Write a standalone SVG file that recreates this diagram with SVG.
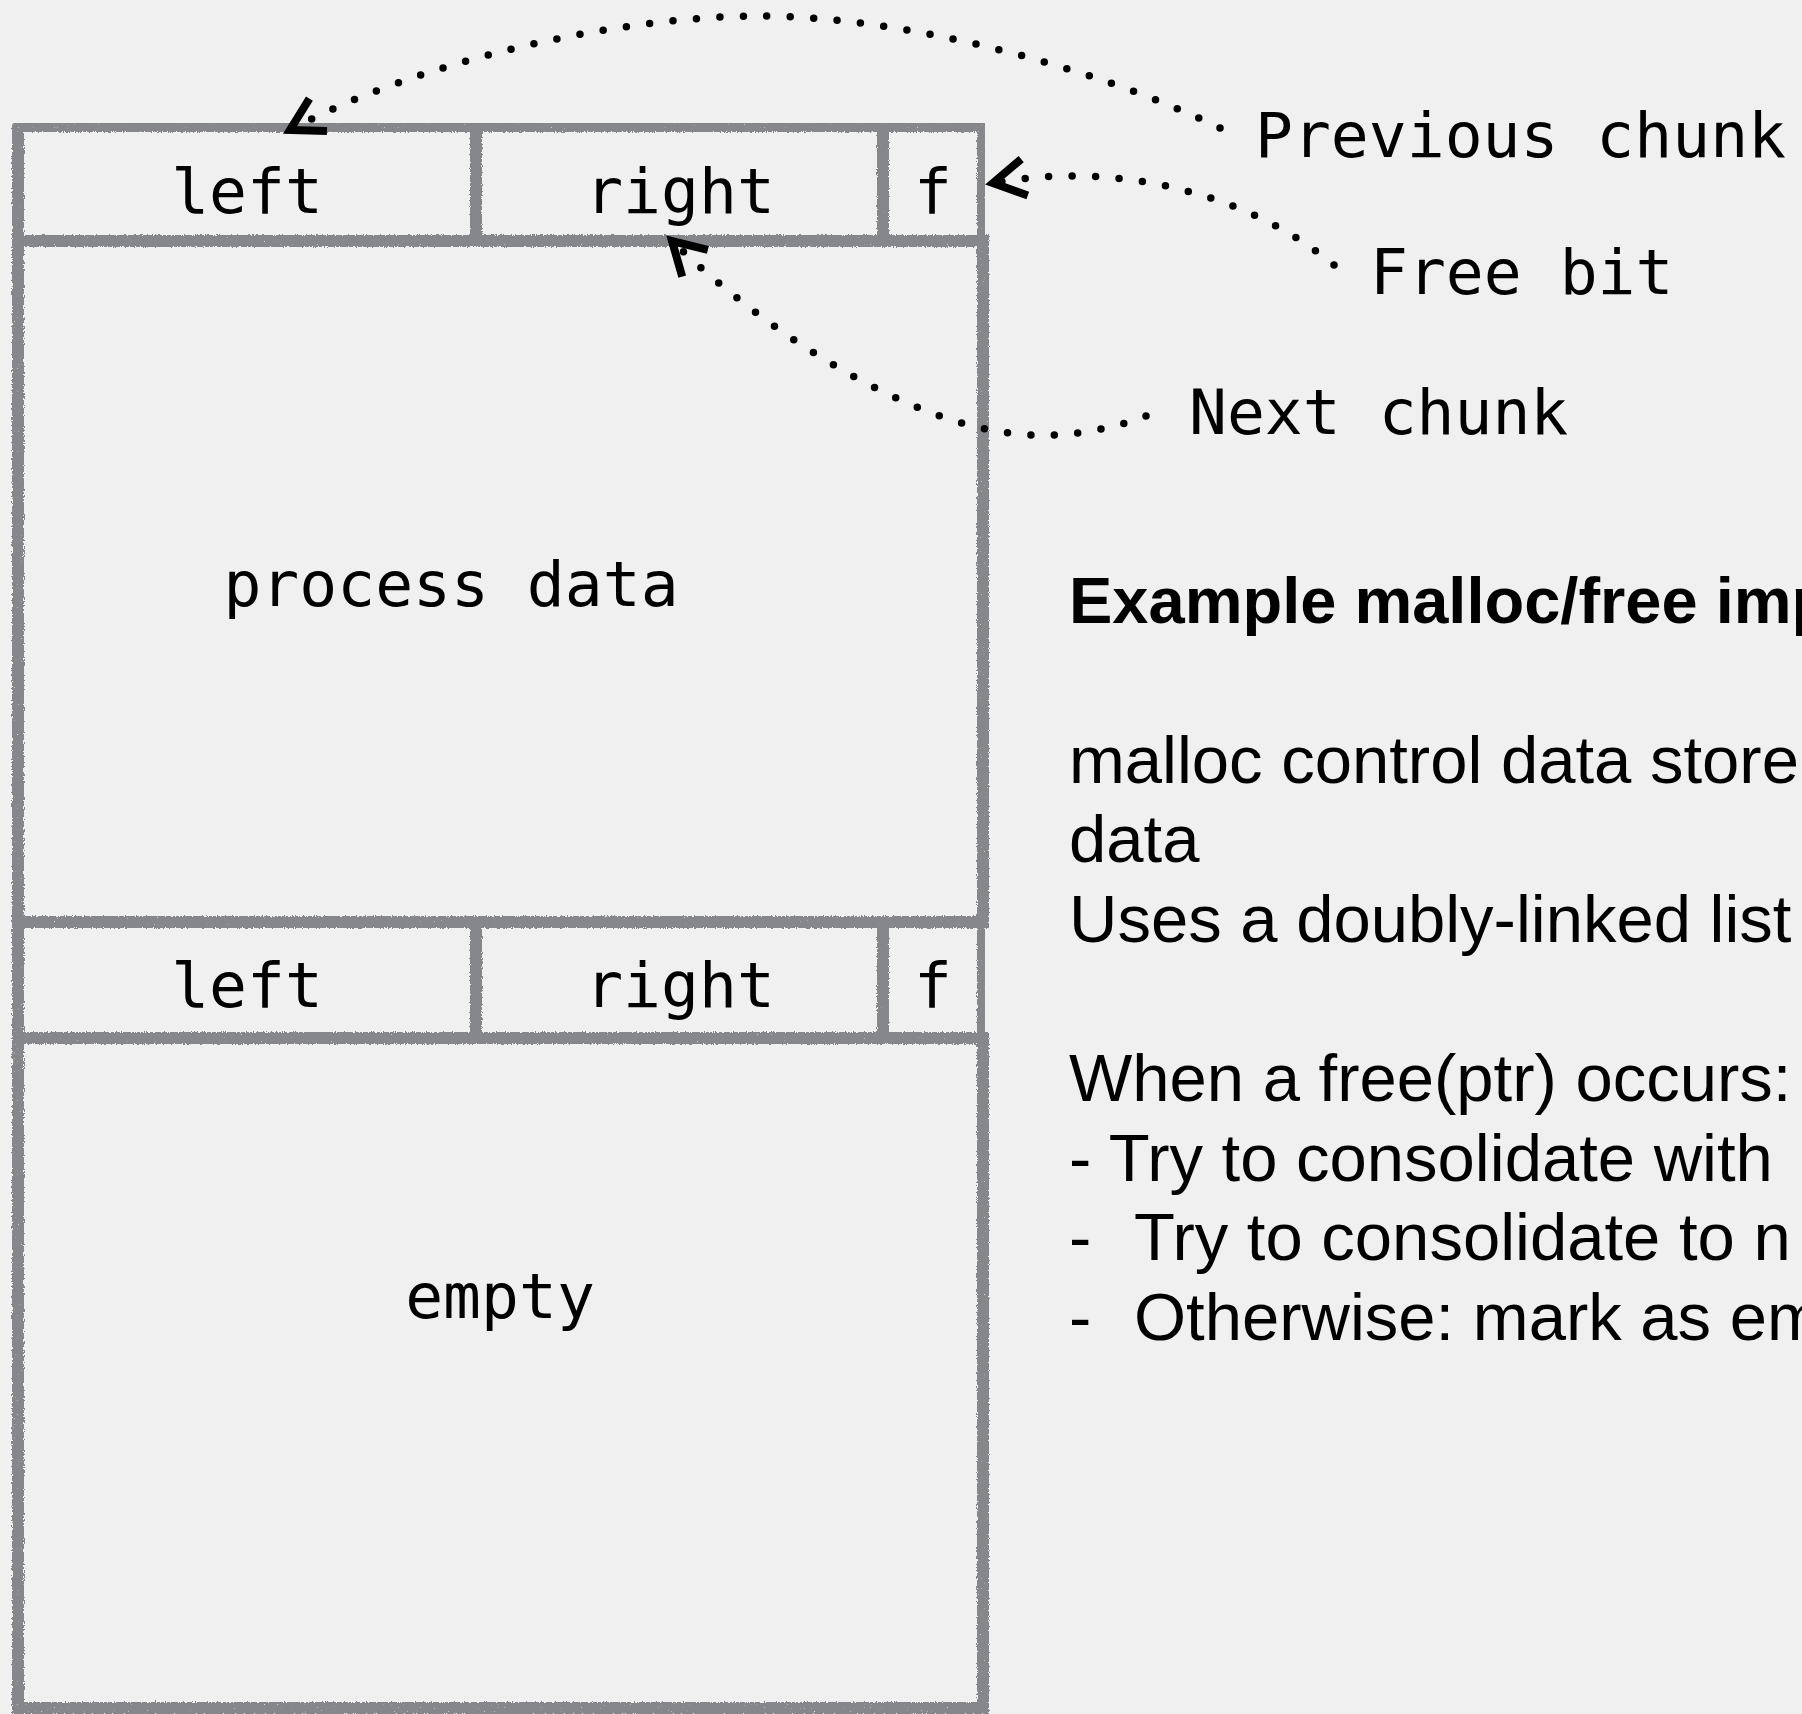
<svg xmlns="http://www.w3.org/2000/svg" width="1802" height="1714" viewBox="0 0 1802 1714">
<style>
.cell{fill:#f0f0f0;stroke:#85878b;stroke-width:12;filter:url(#chalk)}
.mono{font-family:"DejaVu Sans Mono","Liberation Mono",monospace;font-size:63px;fill:#000}
.mid{text-anchor:middle}
.sans{font-family:"Liberation Sans",Arial,Helvetica,sans-serif;font-size:67px;fill:#000}
.bold{font-weight:bold;font-size:65px}
.dot{fill:none;stroke:#000;stroke-width:7.5;stroke-linecap:round;stroke-dasharray:0 23.5;marker-end:url(#chev)}
</style>
<defs>
<filter id="chalk" x="-2%" y="-2%" width="104%" height="104%">
<feTurbulence type="fractalNoise" baseFrequency="0.9 0.5" numOctaves="2" seed="3" result="n"/>
<feDisplacementMap in="SourceGraphic" in2="n" scale="4" xChannelSelector="R" yChannelSelector="G" result="d"/>
<feTurbulence type="fractalNoise" baseFrequency="0.7" numOctaves="1" seed="7" result="n2"/>
<feColorMatrix in="n2" type="matrix" values="0 0 0 0 0  0 0 0 0 0  0 0 0 0 0  0 0 0 -8 6.8" result="m"/>
<feComposite in="d" in2="m" operator="in"/>
</filter>
<marker id="chev" markerUnits="userSpaceOnUse" viewBox="-40 -30 46 60" markerWidth="46" markerHeight="60" refX="0" refY="0" orient="auto" overflow="visible">
<path d="M-32,-18.5 L0,0 L-32,18.5" fill="none" stroke="#000" stroke-width="8" stroke-linejoin="miter"/>
</marker>
</defs>
<rect width="1802" height="1714" fill="#f0f0f0"/>

<g id="body-process-data">
<rect class="cell" x="18" y="241" width="965" height="681"/>
<text class="mono mid" x="451" y="606">process data</text>
</g>
<g id="body-empty">
<rect class="cell" x="18" y="1038" width="965" height="670"/>
<text class="mono mid" x="500" y="1318">empty</text>
</g>
<g id="left-1">
<rect class="cell" x="18" y="126" width="458" height="115"/>
<text class="mono mid" x="247" y="213">left</text>
</g>
<g id="right-1">
<rect class="cell" x="476" y="126" width="407" height="115"/>
<text class="mono mid" x="680" y="213">right</text>
</g>
<g id="f-1">
<rect class="cell" x="883" y="126" width="100" height="115"/>
<text class="mono mid" x="933" y="213">f</text>
</g>
<g id="left-2">
<rect class="cell" x="18" y="922" width="458" height="116"/>
<text class="mono mid" x="247" y="1007">left</text>
</g>
<g id="right-2">
<rect class="cell" x="476" y="922" width="407" height="116"/>
<text class="mono mid" x="680" y="1007">right</text>
</g>
<g id="f-2">
<rect class="cell" x="883" y="922" width="100" height="116"/>
<text class="mono mid" x="933" y="1007">f</text>
</g>

<g id="label-previous-chunk"><text class="mono" x="1255" y="157">Previous chunk</text></g>
<g id="label-free-bit"><text class="mono" x="1370" y="294">Free bit</text></g>
<g id="label-next-chunk"><text class="mono" x="1189" y="434">Next chunk</text></g>

<g id="connectors">
<path class="dot" d="M1220,128 C1090,65 900,16 760,16 C620,16 420,60 290,130"/>
<path class="dot" d="M1334,265 C1250,195 1120,160 993,183"/>
<path class="dot" d="M1146,416 C1115,428 1075,436 1040,435 C930,436 780,345 672,241"/>
</g>

<g id="notes">
<text class="sans bold" x="1069" y="623">Example malloc/free imp</text>
<text class="sans" x="1069" y="783">malloc control data store</text>
<text class="sans" x="1069" y="862">data</text>
<text class="sans" x="1069" y="942">Uses a doubly-linked list</text>
<text class="sans" x="1069" y="1101">When a free(ptr) occurs:</text>
<text class="sans" x="1069" y="1181">- Try to consolidate with</text>
<text class="sans" y="1260"><tspan x="1069">-</tspan><tspan x="1134">Try to consolidate to n</tspan></text>
<text class="sans" y="1340"><tspan x="1069">-</tspan><tspan x="1134">Otherwise: mark as em</tspan></text>
</g>
</svg>
